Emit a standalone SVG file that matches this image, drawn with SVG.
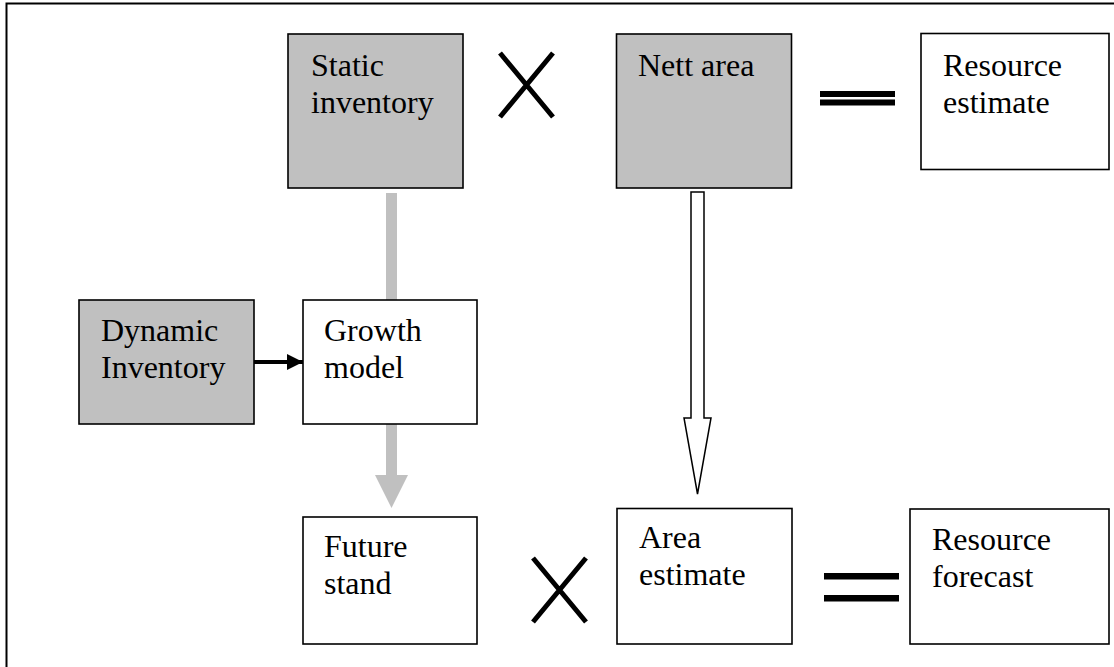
<svg xmlns="http://www.w3.org/2000/svg" width="1114" height="667" viewBox="0 0 1114 667">
<style>
.box{stroke:#000;stroke-width:1.6}
.g{fill:#c0c0c0}
.w{fill:#fff}
text{font-family:"Liberation Serif","Times New Roman",serif;font-size:32px;fill:#000}
.x{stroke:#000;stroke-width:5;fill:none}
</style>
<defs>
<marker id="blk" viewBox="0 0 16 16" refX="16" refY="8" markerWidth="16" markerHeight="16" markerUnits="userSpaceOnUse" orient="auto">
<path d="M0,0 L16,8 L0,16 Z" fill="#000"/>
</marker>
</defs>
<rect x="6.5" y="3.5" width="1130" height="700" fill="#fff" stroke="#000" stroke-width="2"/>
<g id="connectors">
<rect x="386" y="193" width="11" height="283" fill="#c0c0c0"/>
<path d="M375,475 L408,475 L391.5,508 Z" fill="#c0c0c0"/>
<line x1="254" y1="362" x2="303" y2="362" stroke="#000" stroke-width="4" marker-end="url(#blk)"/>
<path d="M691,192 L704,192 L704,418 L711,418 L697.5,494 L684,418 L691,418 Z" fill="#fff" stroke="#000" stroke-width="1.5"/>
</g>
<g id="static-inventory">
<rect class="box g" x="288" y="34" width="175" height="154"/>
<text x="311" y="76">Static</text>
<text x="311" y="113">inventory</text>
</g>
<g id="times-top">
<path class="x" d="M500,53 L553,117 M553,53 L500,117"/>
</g>
<g id="nett-area">
<rect class="box g" x="616.5" y="34" width="175" height="154"/>
<text x="638" y="76">Nett area</text>
</g>
<g id="equals-top">
<rect x="820" y="91" width="75" height="6" fill="#000"/>
<rect x="820" y="99.5" width="75" height="6" fill="#000"/>
</g>
<g id="resource-estimate">
<rect class="box w" x="921" y="33.5" width="188" height="136"/>
<text x="943" y="76">Resource</text>
<text x="943" y="113">estimate</text>
</g>
<g id="dynamic-inventory">
<rect class="box g" x="79" y="300" width="175" height="124"/>
<text x="101" y="341">Dynamic</text>
<text x="101" y="378">Inventory</text>
</g>
<g id="growth-model">
<rect class="box w" x="303" y="300" width="174" height="124"/>
<text x="324" y="341">Growth</text>
<text x="324" y="378">model</text>
</g>
<g id="future-stand">
<rect class="box w" x="303" y="517" width="174" height="127"/>
<text x="324" y="557">Future</text>
<text x="324" y="594">stand</text>
</g>
<g id="times-bottom">
<path class="x" d="M533,558 L586,622 M586,558 L533,622"/>
</g>
<g id="area-estimate">
<rect class="box w" x="617" y="508.5" width="175" height="135.5"/>
<text x="639" y="548">Area</text>
<text x="639" y="585">estimate</text>
</g>
<g id="equals-bottom">
<rect x="824" y="573" width="75" height="6.5" fill="#000"/>
<rect x="824" y="595" width="75" height="6.5" fill="#000"/>
</g>
<g id="resource-forecast">
<rect class="box w" x="910" y="509" width="199" height="135"/>
<text x="932" y="550">Resource</text>
<text x="932" y="587">forecast</text>
</g>
</svg>
